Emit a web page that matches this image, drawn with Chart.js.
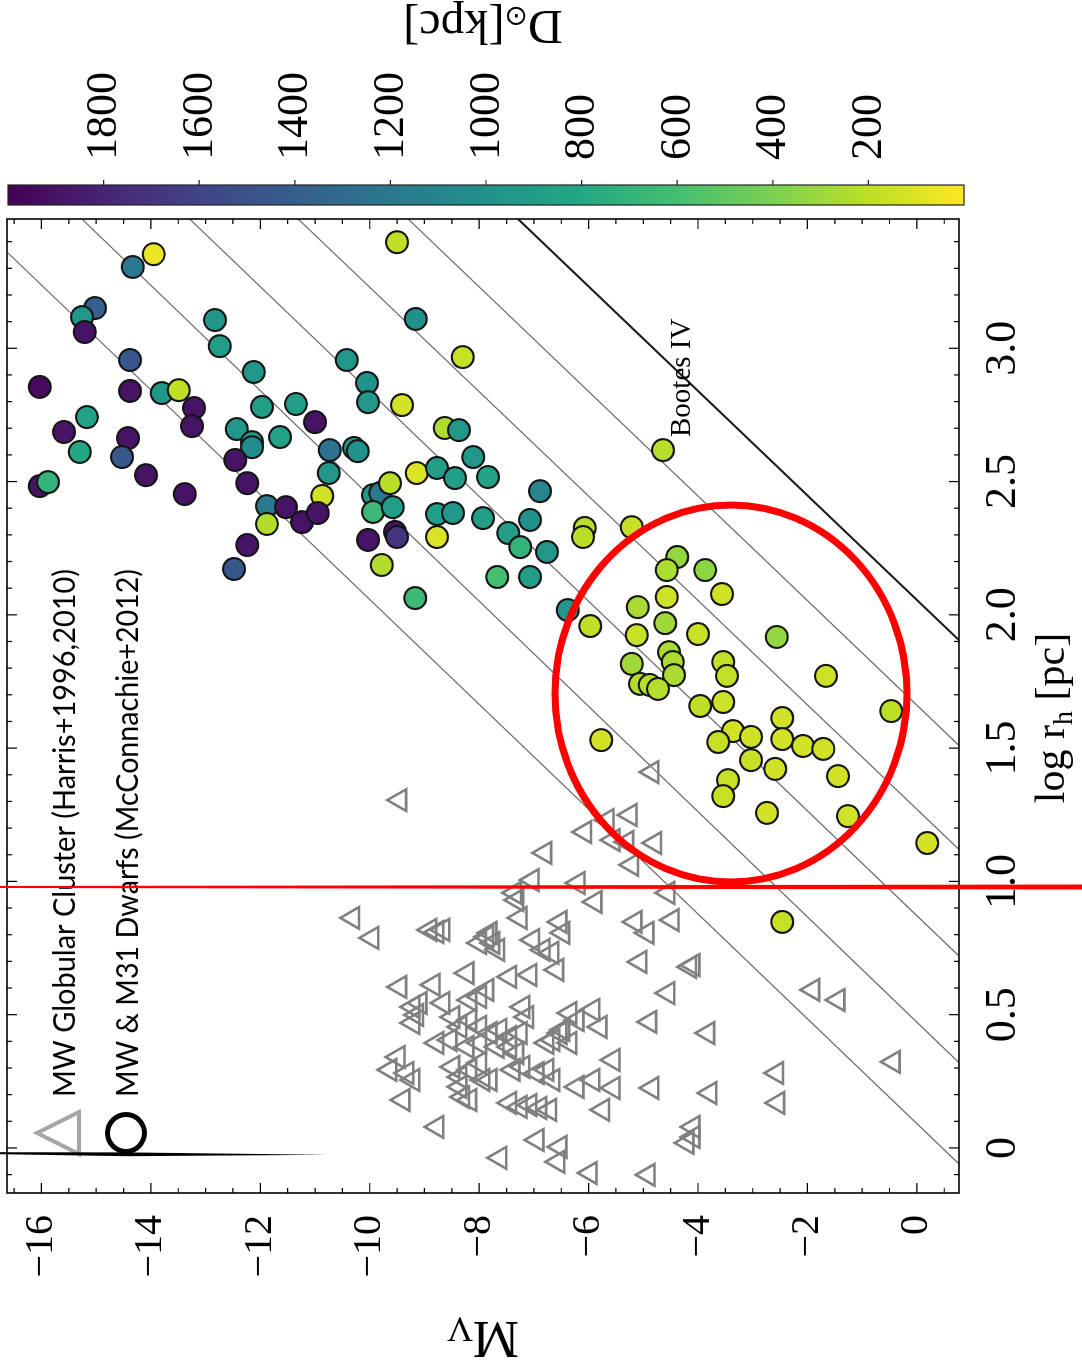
<!DOCTYPE html>
<html><head><meta charset="utf-8">
<script src="https://cdn.jsdelivr.net/npm/chart.js@4.4.1/dist/chart.umd.min.js"></script>
<style>
html,body{margin:0;padding:0;background:#fff;overflow:hidden;width:1082px;height:1360px;}
#wrap{position:absolute;left:0;top:0;width:1360px;height:1082px;transform-origin:0 0;transform:translateY(1360px) rotate(-90deg);background:#fff;}
canvas{display:block;}
</style></head><body>
<div id="wrap"><canvas id="c" width="1360" height="1082"></canvas></div>
<script>
// ---------- DATA ----------
// MW & M31 dwarfs: log r_h [pc], M_V, heliocentric distance [kpc]
const dwarfLogRh = [3.353,3.305,3.398,3.151,3.117,3.061,3.106,3.008,3.110,2.956,2.855,2.840,2.832,2.843,2.776,2.708,2.911,2.956,2.870,2.798,2.967,2.787,2.780,2.791,2.723,2.742,2.686,2.611,2.663,2.592,2.524,2.453,2.483,2.498,2.697,2.648,2.629,2.667,2.581,2.494,2.618,2.626,2.614,2.532,2.446,2.408,2.404,2.348,2.382,2.341,2.262,2.172,2.449,2.457,2.494,2.386,2.404,2.281,2.311,2.292,2.187,2.063,2.532,2.551,2.513,2.701,2.693,2.592,2.378,2.382,2.292,2.363,2.517,2.464,2.618,2.356,2.307,2.254,2.236,2.326,2.292,2.329,2.142,2.142,2.018,1.958,2.217,2.168,2.168,2.067,2.078,2.029,1.969,1.924,1.928,1.917,1.860,1.823,1.816,1.774,1.741,1.737,1.722,1.823,1.771,1.771,1.658,1.673,1.639,1.530,1.564,1.523,1.542,1.613,1.534,1.508,1.497,1.455,1.422,1.395,1.380,1.320,1.257,1.245,1.144,0.848];
const dwarfMV = [-13.95,-14.33,-9.50,-15.02,-15.26,-15.21,-12.83,-12.74,-9.16,-14.38,-16.03,-14.38,-13.80,-13.49,-13.21,-13.25,-12.12,-10.42,-10.05,-10.03,-8.30,-9.41,-11.97,-11.35,-11.00,-15.17,-15.59,-15.30,-14.42,-14.53,-14.09,-13.38,-16.03,-15.88,-12.43,-12.15,-12.15,-11.64,-12.46,-12.24,-10.73,-10.29,-10.22,-10.75,-10.87,-11.88,-11.53,-11.24,-10.95,-11.88,-12.24,-12.48,-9.94,-9.81,-9.63,-9.94,-9.58,-10.03,-9.54,-9.50,-9.78,-9.17,-9.14,-8.77,-8.44,-8.63,-8.37,-8.11,-8.77,-8.48,-8.77,-7.93,-7.84,-6.89,-4.64,-7.07,-7.47,-7.25,-6.76,-6.07,-6.10,-5.21,-7.67,-7.07,-6.38,-5.97,-4.38,-4.57,-3.87,-4.57,-3.56,-5.10,-4.60,-5.12,-4.00,-2.56,-4.53,-4.46,-5.21,-4.44,-5.06,-4.88,-4.73,-3.54,-3.47,-1.66,-3.96,-3.54,-0.47,-5.77,-3.36,-3.63,-3.03,-2.46,-2.46,-2.08,-1.71,-3.03,-2.59,-1.44,-3.45,-3.54,-2.74,-1.26,0.19,-2.46];
const dwarfDist = [60,1200,190,1400,950,1900,950,900,1000,1450,1950,1900,950,190,1900,1900,950,950,1000,950,170,130,900,900,1900,850,1900,800,1900,1450,1900,1900,1900,700,950,900,1050,850,1900,1900,1250,950,1000,950,140,1200,1900,1900,1900,230,1900,1450,950,1200,210,650,900,1900,1900,1700,230,650,110,900,900,240,950,950,900,950,110,900,850,1100,220,1000,900,700,950,210,210,170,600,900,950,190,320,250,340,150,140,260,290,165,165,320,260,260,290,260,225,225,225,180,180,150,195,150,200,140,140,170,140,135,135,135,140,170,140,135,170,170,130,135,130,170];

// MW globular clusters: log r_h [pc], M_V
const gcLogRh = [1.305,0.863,0.788,0.818,0.810,0.818,0.769,0.604,0.612,0.656,0.529,0.544,0.499,0.469,0.341,0.293,0.281,0.255,0.180,0.079,0.863,0.930,0.848,0.792,0.769,0.743,0.780,0.743,0.732,0.593,0.642,0.649,0.668,0.544,0.555,0.567,0.529,0.491,0.454,0.480,0.454,0.431,0.443,0.416,0.431,0.491,0.394,0.405,0.379,0.394,0.379,0.379,0.356,0.405,0.443,0.304,0.266,0.293,0.319,0.255,0.293,0.304,0.281,0.293,0.229,0.191,0.169,0.154,0.161,0.150,0.143,0.030,0.004,-0.037,1.410,1.249,1.230,1.185,1.155,1.148,1.144,1.107,1.062,1.005,0.994,0.957,0.923,0.957,0.848,0.855,0.807,0.807,0.807,0.698,0.679,0.686,0.581,0.593,0.555,0.473,0.431,0.281,0.169,0.323,0.225,0.206,0.079,0.041,0.019,-0.052,-0.094,-0.101,0.225,0.143,0.255,0.229,0.255,0.180,0.255,0.506,0.480,0.518,0.454,0.431,0.394,0.330,0.394];
const gcMV = [-9.45,-10.31,-9.96,-8.90,-8.77,-8.66,-7.99,-9.45,-8.84,-8.22,-9.21,-9.08,-9.14,-9.21,-9.48,-9.63,-9.32,-9.21,-9.39,-8.77,-7.25,-7.31,-6.52,-7.86,-7.75,-7.66,-7.02,-6.83,-6.67,-7.86,-7.44,-7.07,-6.58,-8.66,-8.17,-7.99,-7.20,-8.48,-8.35,-8.17,-7.99,-7.80,-7.62,-7.44,-7.25,-7.13,-8.77,-8.53,-8.22,-7.99,-7.67,-7.44,-7.31,-6.65,-6.47,-8.48,-8.35,-8.17,-7.99,-7.80,-7.38,-7.20,-6.94,-6.76,-8.35,-8.30,-7.44,-7.25,-7.07,-6.89,-6.71,-6.94,-6.52,-7.62,-4.84,-5.24,-5.66,-6.07,-5.55,-5.30,-4.79,-6.80,-5.21,-7.03,-6.19,-7.35,-5.88,-4.55,-5.15,-4.47,-7.80,-6.47,-4.93,-5.06,-4.15,-4.09,-4.55,-1.90,-1.44,-4.88,-3.82,-2.56,-2.54,-0.43,-4.84,-3.78,-4.09,-4.09,-4.20,-6.56,-5.97,-4.91,-5.55,-5.74,-5.92,-6.21,-6.65,-8.17,-7.93,-6.34,-6.21,-5.92,-5.79,-6.52,-6.76,-5.55,-6.34];

// constant surface-brightness guide lines (end points)
const sbLineStartLogRh = [3.357, 3.485, 3.485, 3.485, 3.485, 3.485];
const sbLineStartMV    = [-16.61, -15.26, -13.29, -11.31, -9.30, -7.29];
const sbLineEndLogRh   = [-0.06, 0.32, 0.72, 1.12, 1.51, 1.905];
const sbLineEndMV      = [0.77, 0.77, 0.77, 0.77, 0.77, 0.77];

// tick labels
const colorbarTicks = [200, 400, 600, 800, 1000, 1200, 1400, 1600, 1800];
const legendLabels = ['MW Globular Cluster (Harris+1996,2010)', 'MW & M31 Dwarfs (McConnachie+2012)'];
const annotationLabel = 'Bootes IV';

// ---------- STYLE HELPERS ----------
const VIR = ['#440154','#482475','#414487','#355f8d','#2a788e','#21918c','#22a884','#44bf70','#7ad151','#bddf26','#fde725'];
const D_MAX = 2000;
function hexRgb(h){return [parseInt(h.slice(1,3),16),parseInt(h.slice(3,5),16),parseInt(h.slice(5,7),16)];}
function viridis(t){
  t = Math.max(0, Math.min(1, t));
  const x = t * 10, i = Math.min(9, Math.floor(x)), f = x - i;
  const a = hexRgb(VIR[i]), b = hexRgb(VIR[i+1]);
  return 'rgb(' + a.map((c,k)=>Math.round(c + (b[k]-c)*f)).join(',') + ')';
}
const distColor = d => viridis(1 - d / D_MAX);

const SERIF = '"Liberation Serif", "Times New Roman", serif';
const SANS = 'Lato, "Open Sans", sans-serif';
const AREA = {left: 167, right: 1141, top: 7, bottom: 959};

const dwarfPts = dwarfLogRh.map((x, i) => ({x: x, y: dwarfMV[i]}));
const gcPts = gcLogRh.map((x, i) => ({x: x, y: gcMV[i]}));

const lineSets = sbLineStartLogRh.map((x0, i) => ({
  data: [{x: x0, y: sbLineStartMV[i]}, {x: sbLineEndLogRh[i], y: sbLineEndMV[i]}],
  showLine: true, pointRadius: 0, borderColor: i === 5 ? '#1a1a1a' : '#6a6a6a',
  borderWidth: i === 5 ? 2 : 1.2, order: 3
}));

const deco = {
  id: 'deco',
  afterDraw(chart){
    const ctx = chart.ctx, a = chart.chartArea, xs = chart.scales.x, ys = chart.scales.y;
    ctx.save();
    // frame
    ctx.strokeStyle = '#000'; ctx.lineWidth = 1.6;
    ctx.strokeRect(a.left, a.top, a.right - a.left, a.bottom - a.top);
    // minor / major ticks (inward)
    ctx.lineWidth = 1.2;
    ctx.beginPath();
    for (let k = -1; k <= 34; k++){
      const v = k / 10; if (v < xs.min || v > xs.max) continue;
      const p = xs.getPixelForValue(v), len = (k % 5 === 0) ? 10 : 5;
      ctx.moveTo(p, a.top); ctx.lineTo(p, a.top + len);
      ctx.moveTo(p, a.bottom); ctx.lineTo(p, a.bottom - len);
    }
    for (let k = -33; k <= 1; k++){
      const v = k / 2; if (v < ys.min || v > ys.max) continue;
      const p = ys.getPixelForValue(v), len = (k % 4 === 0) ? 10 : 5;
      ctx.moveTo(a.left, p); ctx.lineTo(a.left + len, p);
      ctx.moveTo(a.right, p); ctx.lineTo(a.right - len, p);
    }
    ctx.stroke();

    // colorbar
    const cbL = 1155, cbR = 1175, cbT = 8, cbB = 964;
    const g = ctx.createLinearGradient(0, cbT, 0, cbB);
    VIR.forEach((c, k) => g.addColorStop(k / 10, c));
    ctx.fillStyle = g; ctx.fillRect(cbL, cbT, cbR - cbL, cbB - cbT);
    ctx.strokeStyle = '#222'; ctx.lineWidth = 1.2; ctx.strokeRect(cbL, cbT, cbR - cbL, cbB - cbT);
    ctx.fillStyle = '#000'; ctx.font = '44px ' + SERIF; ctx.textAlign = 'left'; ctx.textBaseline = 'middle';
    ctx.beginPath();
    colorbarTicks.forEach(d => {
      const p = cbB - d / D_MAX * (cbB - cbT);
      ctx.moveTo(cbR, p); ctx.lineTo(cbR + 5, p);
      ctx.fillText(String(d), 1200, p + 1);
    });
    ctx.stroke();

    // colorbar title  D_sun [kpc] (rotated)
    ctx.save();
    ctx.translate(1336, 483); ctx.rotate(-Math.PI / 2);
    ctx.textBaseline = 'middle'; ctx.textAlign = 'left';
    ctx.font = '48px ' + SERIF;
    const wD = ctx.measureText('D').width;
    ctx.font = '28px DejaVu Sans'; const wS = ctx.measureText('\u2299').width;
    ctx.font = '48px ' + SERIF; const wK = ctx.measureText('[kpc]').width;
    let x0 = -(wD + wS + wK) / 2;
    ctx.fillText('D', x0, 0);
    ctx.font = '28px DejaVu Sans'; ctx.fillText('\u2299', x0 + wD, 10);
    ctx.font = '48px ' + SERIF; ctx.fillText('[kpc]', x0 + wD + wS, 0);
    ctx.restore();

    // y axis title M_V (rotated)
    ctx.save();
    ctx.translate(24, 483); ctx.rotate(-Math.PI / 2);
    ctx.textBaseline = 'middle'; ctx.textAlign = 'left';
    ctx.font = '52px ' + SERIF; const wM = ctx.measureText('M').width;
    ctx.font = '36px ' + SERIF; const wV = ctx.measureText('V').width;
    x0 = -(wM + wV) / 2;
    ctx.font = '52px ' + SERIF; ctx.fillText('M', x0, 0);
    ctx.font = '36px ' + SERIF; ctx.fillText('V', x0 + wM, 10);
    ctx.restore();

    // x axis title log r_h [pc]
    ctx.textBaseline = 'alphabetic'; ctx.textAlign = 'left'; ctx.fillStyle = '#000';
    ctx.font = '42px ' + SERIF; const w1 = ctx.measureText('log r').width;
    ctx.font = '28px ' + SERIF; const w2 = ctx.measureText('h').width;
    ctx.font = '42px ' + SERIF; const w3 = ctx.measureText(' [pc]').width;
    x0 = 642 - (w1 + w2 + w3) / 2;
    ctx.font = '42px ' + SERIF; ctx.fillText('log r', x0, 1064);
    ctx.font = '28px ' + SERIF; ctx.fillText('h', x0 + w1, 1072);
    ctx.font = '42px ' + SERIF; ctx.fillText(' [pc]', x0 + w1 + w2, 1064);

    // Bootes IV label
    ctx.font = '29px ' + SERIF; ctx.fillText(annotationLabel, 923, 690);

    // legend
    ctx.strokeStyle = '#a6a6a6'; ctx.lineWidth = 4; ctx.lineJoin = 'miter';
    ctx.beginPath(); ctx.moveTo(227, 37); ctx.lineTo(248, 79); ctx.lineTo(206, 79); ctx.closePath(); ctx.stroke();
    ctx.strokeStyle = '#000'; ctx.lineWidth = 5;
    ctx.beginPath(); ctx.arc(227, 126, 18.5, 0, Math.PI * 2); ctx.stroke();
    ctx.fillStyle = '#000'; ctx.font = '31px ' + SANS;
    [[legendLabels[0], 75], [legendLabels[1], 138]].forEach(([t, base]) => {
      const w = ctx.measureText(t).width;
      ctx.save(); ctx.translate(263, base); ctx.scale(528 / w, 1); ctx.fillText(t, 0, 0); ctx.restore();
    });
    // black wedge line
    ctx.fillStyle = '#000';
    ctx.beginPath();
    ctx.moveTo(205.8, 0); ctx.lineTo(203.8, 127); ctx.lineTo(205.2, 327); ctx.lineTo(207.6, 127); ctx.lineTo(207.8, 0); ctx.closePath(); ctx.fill();

    // red annotations
    ctx.fillStyle = '#ff0000';
    ctx.beginPath(); ctx.moveTo(472, 0); ctx.lineTo(474, 0); ctx.lineTo(475.5, 1082); ctx.lineTo(470.5, 1082); ctx.closePath(); ctx.fill();
    ctx.strokeStyle = '#ff0000'; ctx.lineWidth = 7;
    ctx.beginPath(); ctx.ellipse(666.5, 731, 188.5, 176, 0, 0, Math.PI * 2); ctx.stroke();
    ctx.restore();
  }
};

const zeroPad = s => { s.paddingLeft = 0; s.paddingRight = 0; s.paddingTop = 0; s.paddingBottom = 0; };

Chart.defaults.font.family = SERIF;
const chart = new Chart(document.getElementById('c'), {
  type: 'scatter',
  data: {
    datasets: [
      { label: 'dwarfs', data: dwarfPts, pointRadius: 11, pointBorderWidth: 2,
        borderColor: '#151515', backgroundColor: dwarfDist.map(distColor), order: 1 },
      { label: 'gc', data: gcPts, pointStyle: 'triangle', pointRadius: 12.5, pointBorderWidth: 2.6,
        borderColor: '#808080', backgroundColor: 'rgba(0,0,0,0)', order: 2 },
      ...lineSets
    ]
  },
  options: {
    responsive: false, devicePixelRatio: 1, animation: false,
    layout: { autoPadding: false, padding: { left: 0, right: 219, top: 7, bottom: 0 } },
    plugins: { legend: { display: false }, tooltip: { enabled: false } },
    scales: {
      x: { type: 'linear', min: -0.169, max: 3.485,
        grid: { display: false, drawTicks: false }, border: { display: false },
        ticks: { stepSize: 0.5, includeBounds: false, padding: 18, color: '#000',
          font: { size: 44, family: SERIF }, maxRotation: 0,
          callback: v => v === 0 ? '0' : v.toFixed(1) },
        afterFit: s => { s.height = 123; zeroPad(s); } },
      y: { type: 'linear', min: -16.63, max: 0.77, reverse: true,
        grid: { display: false, drawTicks: false }, border: { display: false },
        ticks: { stepSize: 2, includeBounds: false, padding: 22, color: '#000',
          font: { size: 40, family: SERIF },
          callback: v => v < 0 ? '\u2212' + Math.abs(v) : String(v) },
        afterFit: s => { s.width = 167; zeroPad(s); } }
    }
  },
  plugins: [deco]
});
// pin the plot frame to the position measured in the reference
(function(){
  const A = chart.chartArea, p = chart.config.options.layout.padding;
  if (Math.abs(A.left - AREA.left) + Math.abs(A.top - AREA.top) + Math.abs(A.right - AREA.right) + Math.abs(A.bottom - AREA.bottom) < 0.5) return;
  chart.config.options.layout.padding = {
    left: p.left + (AREA.left - A.left), right: p.right + (A.right - AREA.right),
    top: p.top + (AREA.top - A.top), bottom: p.bottom + (A.bottom - AREA.bottom)
  };
  chart.update();
})();
</script></body></html>
